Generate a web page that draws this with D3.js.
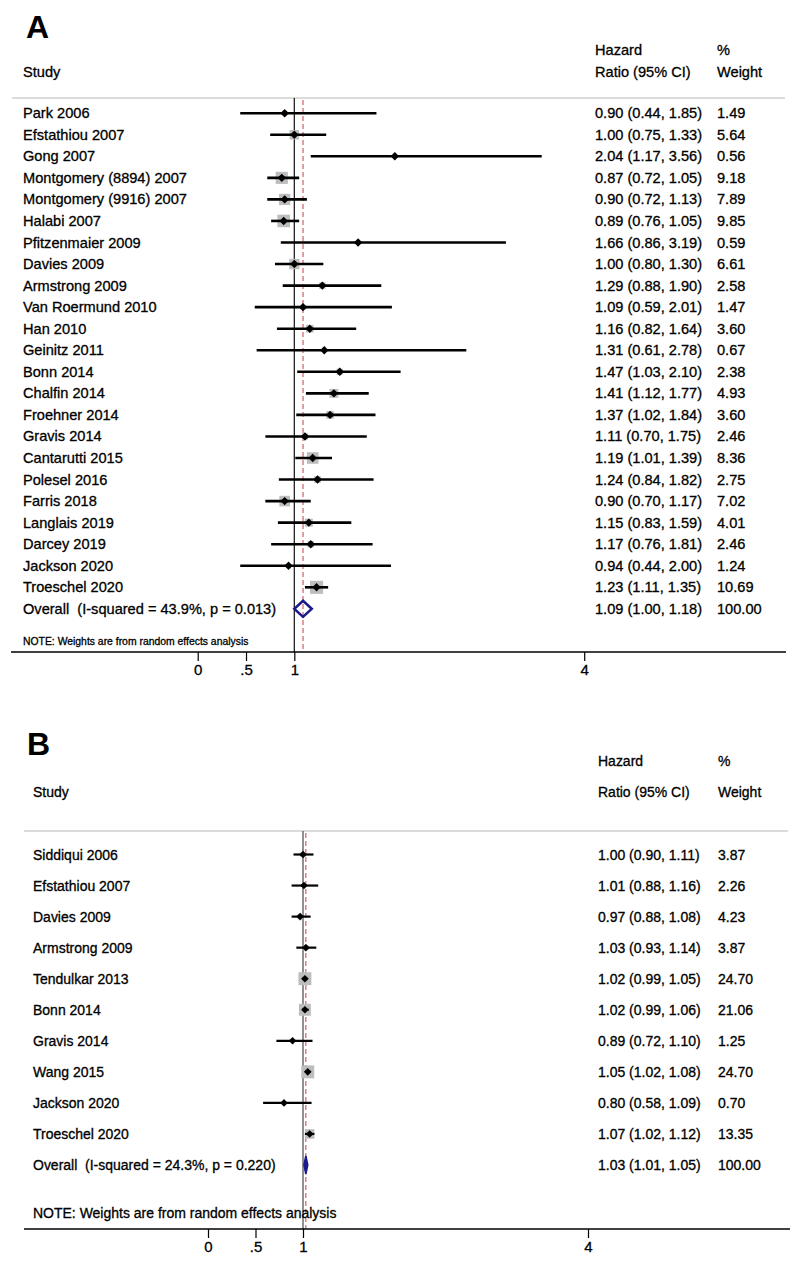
<!DOCTYPE html>
<html>
<head>
<meta charset="utf-8">
<script src="https://cdn.jsdelivr.net/npm/d3@7/dist/d3.min.js"></script>
<style>
  html, body { margin: 0; padding: 0; background: #fff; }
  svg { display: block; }
  text { font-family: "Liberation Sans", Arial, sans-serif; fill: #000; white-space: pre; }
</style>
</head>
<body>
<svg id="chart" width="795" height="1262"></svg>
<script>
// ---------- Panel A data ----------
const studiesA = ["Park 2006","Efstathiou 2007","Gong 2007","Montgomery (8894) 2007","Montgomery (9916) 2007",
  "Halabi 2007","Pfitzenmaier 2009","Davies 2009","Armstrong 2009","Van Roermund 2010","Han 2010","Geinitz 2011",
  "Bonn 2014","Chalfin 2014","Froehner 2014","Gravis 2014","Cantarutti 2015","Polesel 2016","Farris 2018",
  "Langlais 2019","Darcey 2019","Jackson 2020","Troeschel 2020"];
const hrA    = [0.90,1.00,2.04,0.87,0.90,0.89,1.66,1.00,1.29,1.09,1.16,1.31,1.47,1.41,1.37,1.11,1.19,1.24,0.90,1.15,1.17,0.94,1.23];
const lowA   = [0.44,0.75,1.17,0.72,0.72,0.76,0.86,0.80,0.88,0.59,0.82,0.61,1.03,1.12,1.02,0.70,1.01,0.84,0.70,0.83,0.76,0.44,1.11];
const highA  = [1.85,1.33,3.56,1.05,1.13,1.05,3.19,1.30,1.90,2.01,1.64,2.78,2.10,1.77,1.84,1.75,1.39,1.82,1.17,1.59,1.81,2.00,1.35];
const weightA= [1.49,5.64,0.56,9.18,7.89,9.85,0.59,6.61,2.58,1.47,3.60,0.67,2.38,4.93,3.60,2.46,8.36,2.75,7.02,4.01,2.46,1.24,10.69];
const overallA = {label:"Overall  (I-squared = 43.9%, p = 0.013)", hr:1.09, low:1.00, high:1.18, weight:"100.00"};

// ---------- Panel B data ----------
const studiesB = ["Siddiqui 2006","Efstathiou 2007","Davies 2009","Armstrong 2009","Tendulkar 2013","Bonn 2014",
  "Gravis 2014","Wang 2015","Jackson 2020","Troeschel 2020"];
const hrB    = [1.00,1.01,0.97,1.03,1.02,1.02,0.89,1.05,0.80,1.07];
const lowB   = [0.90,0.88,0.88,0.93,0.99,0.99,0.72,1.02,0.58,1.02];
const highB  = [1.11,1.16,1.08,1.14,1.05,1.06,1.10,1.08,1.09,1.12];
const weightB= [3.87,2.26,4.23,3.87,24.70,21.06,1.25,24.70,0.70,13.35];
const overallB = {label:"Overall  (I-squared = 24.3%, p = 0.220)", hr:1.03, low:1.01, high:1.05, weight:"100.00"};

const tickValues = [0, 0.5, 1, 4];
const tickLabels = ["0", ".5", "1", "4"];
const note = "NOTE: Weights are from random effects analysis";

const svg = d3.select("#chart");
const fmt = d3.format(".2f");

function panel(cfg) {
  const g = svg.append("g");
  const x = d3.scaleLinear().domain([0, 4]).range(cfg.xRange);
  const y = d3.scaleLinear().domain([0, 1]).range([cfg.row0, cfg.row0 + cfg.rowStep]);
  const sy = cfg.textScaleY;

  function txt(xp, yp, s, size) {
    return g.append("text")
      .attr("transform", `translate(${xp},${yp}) scale(1,${sy})`)
      .attr("dominant-baseline", "central")
      .attr("font-size", size)
      .attr("stroke", "#000").attr("stroke-width", 0.3)
      .text(s);
  }

  // Panel letter
  g.append("text").attr("x", cfg.letterX).attr("y", cfg.letterY)
    .attr("font-size", 32).attr("font-weight", "bold").text(cfg.letter);

  // Headers
  txt(cfg.labelX, cfg.head2Y, "Study", cfg.fs);
  txt(cfg.estX, cfg.head1Y, "Hazard", cfg.fs);
  txt(cfg.estX, cfg.head2Y, "Ratio (95% CI)", cfg.fs);
  txt(cfg.wX, cfg.head1Y, "%", cfg.fs);
  txt(cfg.wX, cfg.head2Y, "Weight", cfg.fs);

  // gray separator
  g.append("line").attr("x1", cfg.sepX[0]).attr("x2", cfg.sepX[1])
    .attr("y1", cfg.sepY).attr("y2", cfg.sepY)
    .attr("stroke", "#cfcfcf").attr("stroke-width", 1.6);

  // null line at 1
  g.append("line").attr("x1", x(1)).attr("x2", x(1))
    .attr("y1", cfg.sepY).attr("y2", cfg.axisY)
    .attr("stroke", cfg.nullColor).attr("stroke-width", 1.3);

  // overall dashed line
  g.append("line").attr("x1", x(cfg.overall.hr)).attr("x2", x(cfg.overall.hr))
    .attr("y1", cfg.sepY + 2).attr("y2", cfg.axisY)
    .attr("stroke", "#d2505a").attr("stroke-width", 1.1).attr("stroke-dasharray", "5,3");

  const n = cfg.studies.length;
  const rows = d3.range(n);

  // weight squares
  g.selectAll("rect.w").data(rows).enter().append("rect")
    .attr("x", i => x(cfg.hr[i]) - cfg.sqK * Math.sqrt(cfg.weight[i]) / 2)
    .attr("y", i => y(i) - cfg.sqK * Math.sqrt(cfg.weight[i]) / 2)
    .attr("width", i => cfg.sqK * Math.sqrt(cfg.weight[i]))
    .attr("height", i => cfg.sqK * Math.sqrt(cfg.weight[i]))
    .attr("fill", "#bdbdbd");

  // CI lines
  g.selectAll("line.ci").data(rows).enter().append("line")
    .attr("x1", i => x(cfg.low[i])).attr("x2", i => x(cfg.high[i]))
    .attr("y1", i => y(i)).attr("y2", i => y(i))
    .attr("stroke", "#000").attr("stroke-width", cfg.ciW);

  // point diamonds
  const d = cfg.dm;
  g.selectAll("path.pt").data(rows).enter().append("path")
    .attr("d", i => {
      const cx = x(cfg.hr[i]), cy = y(i);
      return `M${cx - d},${cy}L${cx},${cy - d}L${cx + d},${cy}L${cx},${cy + d}Z`;
    })
    .attr("fill", "#000");

  // labels & estimate text
  rows.forEach(i => {
    txt(cfg.labelX, y(i), cfg.studies[i], cfg.fs);
    txt(cfg.estX, y(i), `${fmt(cfg.hr[i])} (${fmt(cfg.low[i])}, ${fmt(cfg.high[i])})`, cfg.fs);
    txt(cfg.wX, y(i), fmt(cfg.weight[i]), cfg.fs);
  });

  // overall
  const o = cfg.overall, oy = y(n);
  g.append("path")
    .attr("d", `M${x(o.low)},${oy}L${x(o.hr)},${oy - cfg.ovH}L${x(o.high)},${oy}L${x(o.hr)},${oy + cfg.ovH}Z`)
    .attr("fill", cfg.ovFill).attr("stroke", "#1a1a8c").attr("stroke-width", cfg.ovStroke);
  txt(cfg.labelX, oy, o.label, cfg.fs);
  txt(cfg.estX, oy, `${fmt(o.hr)} (${fmt(o.low)}, ${fmt(o.high)})`, cfg.fs);
  txt(cfg.wX, oy, o.weight, cfg.fs);

  // note
  txt(cfg.labelX, cfg.noteY, note, cfg.noteFs);

  // axis
  g.append("line").attr("x1", cfg.axisX[0]).attr("x2", cfg.axisX[1])
    .attr("y1", cfg.axisY).attr("y2", cfg.axisY)
    .attr("stroke", "#000").attr("stroke-width", 1.3);
  const axis = d3.axisBottom(x).tickValues(tickValues)
    .tickFormat((v, i) => tickLabels[i]).tickSize(9).tickPadding(3);
  const ag = g.append("g").attr("transform", `translate(0,${cfg.axisY})`).call(axis);
  ag.select(".domain").remove();
  ag.selectAll(".tick line").attr("stroke", "#000").attr("stroke-width", 1.2);
  ag.selectAll(".tick text")
    .attr("font-family", "'Liberation Sans Narrow', 'Liberation Sans', Arial, sans-serif")
    .attr("font-size", 15).attr("fill", "#000").attr("stroke", "#000").attr("stroke-width", 0.3);
}

panel({
  letter: "A", letterX: 26, letterY: 38,
  studies: studiesA, hr: hrA, low: lowA, high: highA, weight: weightA, overall: overallA,
  xRange: [197.7, 584.2], row0: 113.2, rowStep: 21.55,
  labelX: 23, estX: 595, wX: 717, head1Y: 50, head2Y: 72,
  sepY: 98, sepX: [12, 785], axisY: 652, axisX: [11, 786],
  fs: 14.6, noteFs: 10.4, noteY: 641, textScaleY: 1,
  sqK: 4.0, dm: 4.2, ciW: 2.6, ovH: 8, ovFill: "none", ovStroke: 2.6,
  nullColor: "#222"
});

panel({
  letter: "B", letterX: 27, letterY: 755,
  studies: studiesB, hr: hrB, low: lowB, high: highB, weight: weightB, overall: overallB,
  xRange: [208, 588], row0: 854.5, rowStep: 31.05,
  labelX: 33, estX: 598, wX: 718, head1Y: 761, head2Y: 792,
  sepY: 831, sepX: [24, 788], axisY: 1229, axisX: [24, 790],
  fs: 14, noteFs: 14, noteY: 1213, textScaleY: 1.1,
  sqK: 2.6, dm: 3.8, ciW: 2.2, ovH: 9, ovFill: "#1a1a8c", ovStroke: 1.6,
  nullColor: "#555"
});
</script>
</body>
</html>
